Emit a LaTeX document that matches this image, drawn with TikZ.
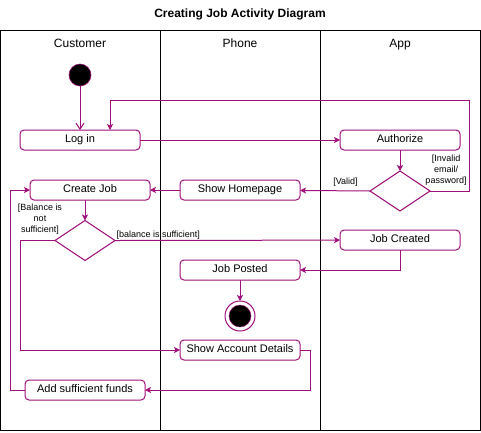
\documentclass[tikz,border=0pt]{standalone}
\usepackage{fontspec}
\setmainfont{Liberation Sans}
\usepackage{tikz}
\usetikzlibrary{arrows.meta,shapes.geometric,positioning}
\definecolor{flowMagenta}{RGB}{160,16,122}
\tikzset{
  jobBox/.style      = {rectangle, rounded corners=4pt, draw=flowMagenta, fill=white,
                        line width=1pt, minimum width=120pt, minimum height=20pt,
                        text height=8pt, text depth=2.5pt,
                        inner sep=0pt, outer sep=0pt, font=\fontsize{11}{13}\selectfont},
  jobDecision/.style = {diamond, aspect=1.5, draw=flowMagenta, fill=white, line width=1pt,
                        minimum width=60pt, minimum height=40pt, inner sep=0pt, outer sep=0pt},
  jobStart/.style    = {circle, draw=flowMagenta, fill=black, line width=0.6pt,
                        minimum size=22pt, inner sep=0pt, outer sep=0pt},
  jobEnd/.style      = {circle, draw=flowMagenta, fill=white, line width=1pt,
                        minimum size=30pt, inner sep=0pt, outer sep=0pt},
  jobEndDot/.style   = {circle, draw=flowMagenta, fill=black, line width=0.4pt,
                        minimum size=22pt, inner sep=0pt},
  jobArrow/.style    = {-{Stealth[length=6pt,width=6pt,inset=1.5pt]}, draw=flowMagenta, line width=1pt},
  jobOpen/.style     = {-{Straight Barb[length=6pt,width=8pt]}, draw=flowMagenta, line width=1pt},
  guardLbl/.style    = {font=\fontsize{9}{11}\selectfont, inner sep=1pt, align=center},
  laneHead/.style    = {font=\fontsize{12}{14}\selectfont, text height=9pt, text depth=2.5pt},
  laneLine/.style    = {draw=black, line width=1pt},
}
\begin{document}
\begin{tikzpicture}[x=1pt, y=-1pt]
  \useasboundingbox (0,0) rectangle (481,432);
  \node[font=\fontsize{12}{14}\selectfont\bfseries, text height=9pt, text depth=2.5pt] (title) at (240,14) {Creating Job Activity Diagram};
  \draw[laneLine] (0,30) rectangle (480,430);
  \draw[laneLine] (160,30) -- (160,430);
  \draw[laneLine] (320,30) -- (320,430);
  \node[laneHead] (customer) at (80,44) {Customer};
  \node[laneHead] (phone) at (240,44) {Phone};
  \node[laneHead] (app) at (400,44) {App};

  \node[jobStart] (start) at (80,75) {};
  \node[jobBox, below=44pt of start] (login) {Log in};
  \node[jobBox, right=200pt of login] (auth) {Authorize};
  \node[jobDecision, below=21pt of auth] (valid) {};
  \node[jobBox] (home) at (240,190) {Show Homepage};
  \node[jobBox, left=30pt of home] (create) {Create Job};
  \node[jobDecision] (funds) at (85,240.5) {};
  \node[jobBox] (created) at (400,240) {Job Created};
  \node[jobBox, below=60pt of home] (posted) {Job Posted};
  \node[jobEnd, below=21pt of posted] (finish) {};
  \node[jobEndDot] (finishdot) at (finish) {};
  \node[jobBox, below=60pt of posted] (account) {Show Account Details};
  \node[jobBox] (addfunds) at (85,390) {Add sufficient funds};
  \coordinate (retry) at (469,100);

  \draw[jobOpen] (start) -- (login);
  \draw[jobArrow] (login) -- (auth);
  \draw[jobArrow] (auth) -- (valid);
  \draw[jobArrow] (valid.east) -| (retry) -| ([xshift=30pt]login.north);
  \node[guardLbl] (invalidlbl) at (446,170) {[Invalid\\email/\\password]};
  \draw[jobArrow] (valid.west) -- node[guardLbl, above=3pt, pos=0.35] {[Valid]} (home);
  \draw[jobArrow] (home) -- (create);
  \draw[jobArrow] (funds.north |- create.south) -- (funds);
  \draw[jobArrow] (funds.east) -- node[guardLbl, pos=0, anchor=south west] {[balance is sufficient]} (created);
  \draw[jobArrow] (funds.west) -- ++(-35,0) |- (account);
  \node[guardLbl] (shortlbl) at (40,219) {[Balance is\\not\\sufficient]};
  \draw[jobArrow] (created) |- (posted);
  \draw[jobArrow] (posted) -- (finish);
  \draw[jobArrow] (account.east) -- ++(10,0) |- (addfunds);
  \draw[jobArrow] (addfunds.west) -- ++(-15,0) |- (create);
\end{tikzpicture}
\end{document}
